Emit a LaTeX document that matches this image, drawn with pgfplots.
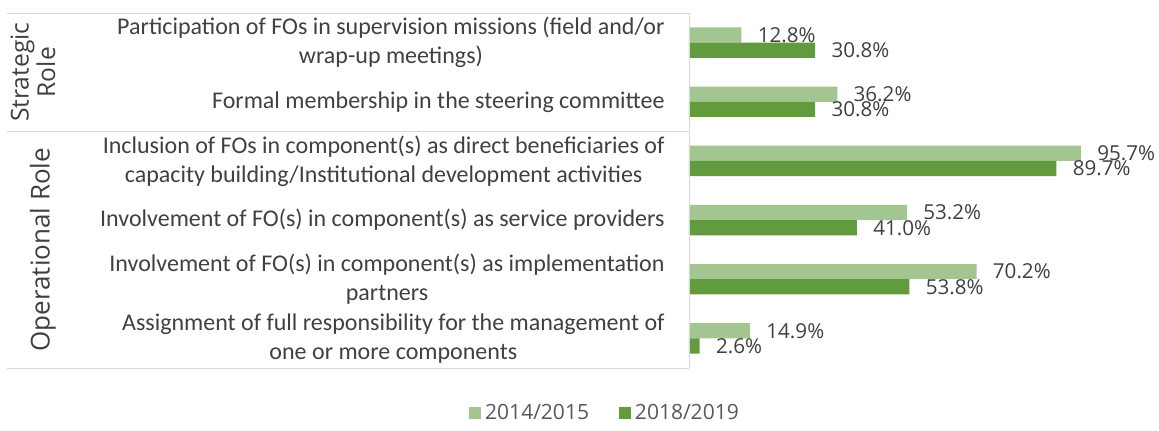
\documentclass[border=0pt]{standalone}
\usepackage{fontspec}
\setmainfont{Carlito}
\newfontfamily\segoe{Open Sans}
\usepackage{pgfplots}
\pgfplotsset{compat=1.18}
\definecolor{lightg}{HTML}{A3C58F}
\definecolor{darkg}{HTML}{629B3D}
\definecolor{txt}{HTML}{404040}
\definecolor{legtxt}{HTML}{595959}
\definecolor{linec}{HTML}{D9D9D9}

\begin{document}
\begin{tikzpicture}
\begin{axis}[
  scale only axis,
  width=204.8pt, height=177.5pt,
  xmin=0, xmax=100, ymin=-0.5, ymax=5.5,
  xbar, bar width=7.6pt,
  axis line style={draw=none},
  xtick=\empty,
  ytick={0,...,5},
  yticklabels={
    {Assignment of full responsibility for the management of\\one or more components},
    {Involvement of FO(s) in component(s) as implementation\\partners},
    {Involvement of FO(s) in component(s) as service providers},
    {Inclusion of FOs in component(s) as direct beneficiaries of\\capacity building/Institutional development activities},
    {Formal membership in the steering committee},
    {Participation of FOs in supervision missions (field and/or\\wrap-up meetings)}
  },
  major tick length=0pt,
  yticklabel style={align=center, font=\fontsize{12}{14.5}\selectfont, text=txt, inner sep=0pt, xshift=-12pt},
  clip=false,
  /pgf/number format/assume math mode=true,
  nodes near coords={\pgfmathprintnumber[fixed,precision=1,fixed zerofill]{\pgfplotspointmeta}\%},
  nodes near coords style={anchor=west, inner sep=0pt, xshift=8pt, font=\segoe\fontsize{10.3}{12}\selectfont, text=txt},
  legend style={at={(axis description cs:0,0)}, anchor=center, xshift=-41.5pt, yshift=-22.5pt,
    draw=none, font=\segoe\fontsize{10.5}{12}\selectfont, text=legtxt, legend columns=2,
    /tikz/every even column/.append style={column sep=13pt}},
  legend image code/.code={\fill[#1] (0pt,-3pt) rectangle (6pt,3pt);},
]
\addplot[fill=lightg, draw=none, bar shift=3.8pt] coordinates {
  (14.9,0) (70.2,1) (53.2,2) (95.7,3) (36.2,4) (12.8,5)
};
\addlegendentry{2014/2015}
\addplot[fill=darkg, draw=none, bar shift=-3.8pt] coordinates {
  (2.6,0) (53.8,1) (41.0,2) (89.7,3) (30.8,4) (30.8,5)
};
\addlegendentry{2018/2019}
% table-like lines of the category axis
\draw[linec] (rel axis cs:0,0) -- (rel axis cs:0,1);
\draw[linec] ([xshift=-341pt]axis cs:0,5.5) -- (axis cs:0,5.5);
\draw[linec] ([xshift=-341pt]axis cs:0,3.5) -- (axis cs:0,3.5);
\draw[linec] ([xshift=-341pt]axis cs:0,-0.5) -- (axis cs:0,-0.5);
% group labels
\node[rotate=90, align=center, text=txt, font=\segoe\fontsize{12.3}{11.5}\selectfont] at ([xshift=-328pt]axis cs:0,4.5) {Strategic\\Role};
\node[rotate=90, text=txt, font=\segoe\fontsize{13}{11}\selectfont] at ([xshift=-323pt]axis cs:0,1.5) {Operational Role};
% page size
\path ([xshift=-344.5pt,yshift=-29.5pt]rel axis cs:0,0) rectangle ([xshift=235pt,yshift=6.5pt]rel axis cs:0,1);
\end{axis}
\end{tikzpicture}
\end{document}
